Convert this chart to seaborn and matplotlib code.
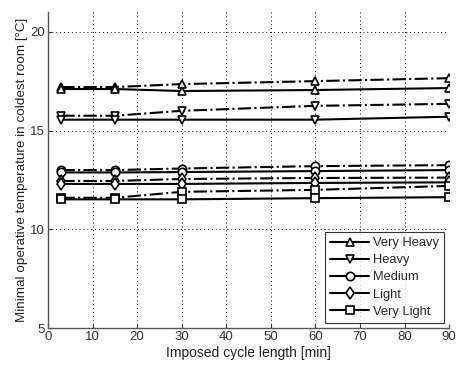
import matplotlib
matplotlib.use("Agg")
import matplotlib.pyplot as plt
import seaborn as sns
import pandas as pd

# imposed cycle length [min]
cycle = [3, 15, 30, 60, 90]

classes = ['Very Heavy', 'Heavy', 'Medium', 'Light', 'Very Light']
markers = ['^', 'v', 'o', 'd', 's']

# solid lines
very_heavy = [17.10, 17.10, 17.00, 17.05, 17.15]
heavy = [15.55, 15.55, 15.55, 15.55, 15.70]
medium = [12.88, 12.88, 12.90, 12.95, 13.00]
light = [12.30, 12.30, 12.30, 12.35, 12.38]
very_light = [11.52, 11.52, 11.52, 11.58, 11.63]

# dash-dot lines
very_heavy_dd = [17.20, 17.20, 17.35, 17.50, 17.65]
heavy_dd = [15.75, 15.75, 16.00, 16.25, 16.35]
medium_dd = [13.00, 13.00, 13.08, 13.20, 13.25]
light_dd = [12.45, 12.45, 12.55, 12.60, 12.62]
very_light_dd = [11.60, 11.60, 11.90, 12.00, 12.20]

solid = [very_heavy, heavy, medium, light, very_light]
dashdot = [very_heavy_dd, heavy_dd, medium_dd, light_dd, very_light_dd]

sns.set_style("white")
plt.rcParams['font.family'] = ['Liberation Sans', 'DejaVu Sans']

fig = plt.figure(figsize=(4.57, 3.73), dpi=100)
ax = fig.add_axes([0.105, 0.12, 0.878, 0.848])

for name, m, s, d in zip(classes, markers, solid, dashdot):
    df = pd.DataFrame({'x': cycle, 'solid': s, 'dd': d})
    sns.lineplot(data=df, x='x', y='dd', ax=ax, color='black', linestyle='-.',
                 linewidth=1.5, marker=m, markersize=6, markerfacecolor='white',
                 markeredgecolor='black', markeredgewidth=1.2, label='_nolegend_')
    sns.lineplot(data=df, x='x', y='solid', ax=ax, color='black', linestyle='-',
                 linewidth=1.5, marker=m, markersize=6, markerfacecolor='white',
                 markeredgecolor='black', markeredgewidth=1.2, label=name)

ax.set_xlim(0, 90)
ax.set_ylim(5, 21)
ax.set_xticks(range(0, 91, 10))
ax.set_yticks([5, 10, 15, 20])
ax.grid(True, color='black', linestyle=(0, (1, 3)), linewidth=0.7)
for side in ['top', 'right']:
    ax.spines[side].set_visible(False)
for side in ['left', 'bottom']:
    ax.spines[side].set_color('#555555')
    ax.spines[side].set_linewidth(1.0)
ax.tick_params(direction='in', length=3, labelsize=9.5, colors='#333333',
               left=True, bottom=True, pad=2)
ax.set_xlabel('Imposed cycle length [min]', fontsize=10, labelpad=2, color='#222222')
ax.set_ylabel('Minimal operative temperature in coldest room [°C]', fontsize=9.7,
              labelpad=2, color='#222222')

handles, labels = ax.get_legend_handles_labels()
leg = ax.legend(handles, labels, loc='lower right', fontsize=9.3, frameon=True,
                fancybox=False, edgecolor='black', handlelength=3.0,
                borderaxespad=0.4, labelspacing=0.4, handletextpad=0.3,
                borderpad=0.4)
leg.get_frame().set_linewidth(0.8)

fig.savefig('out.png', dpi=100)
